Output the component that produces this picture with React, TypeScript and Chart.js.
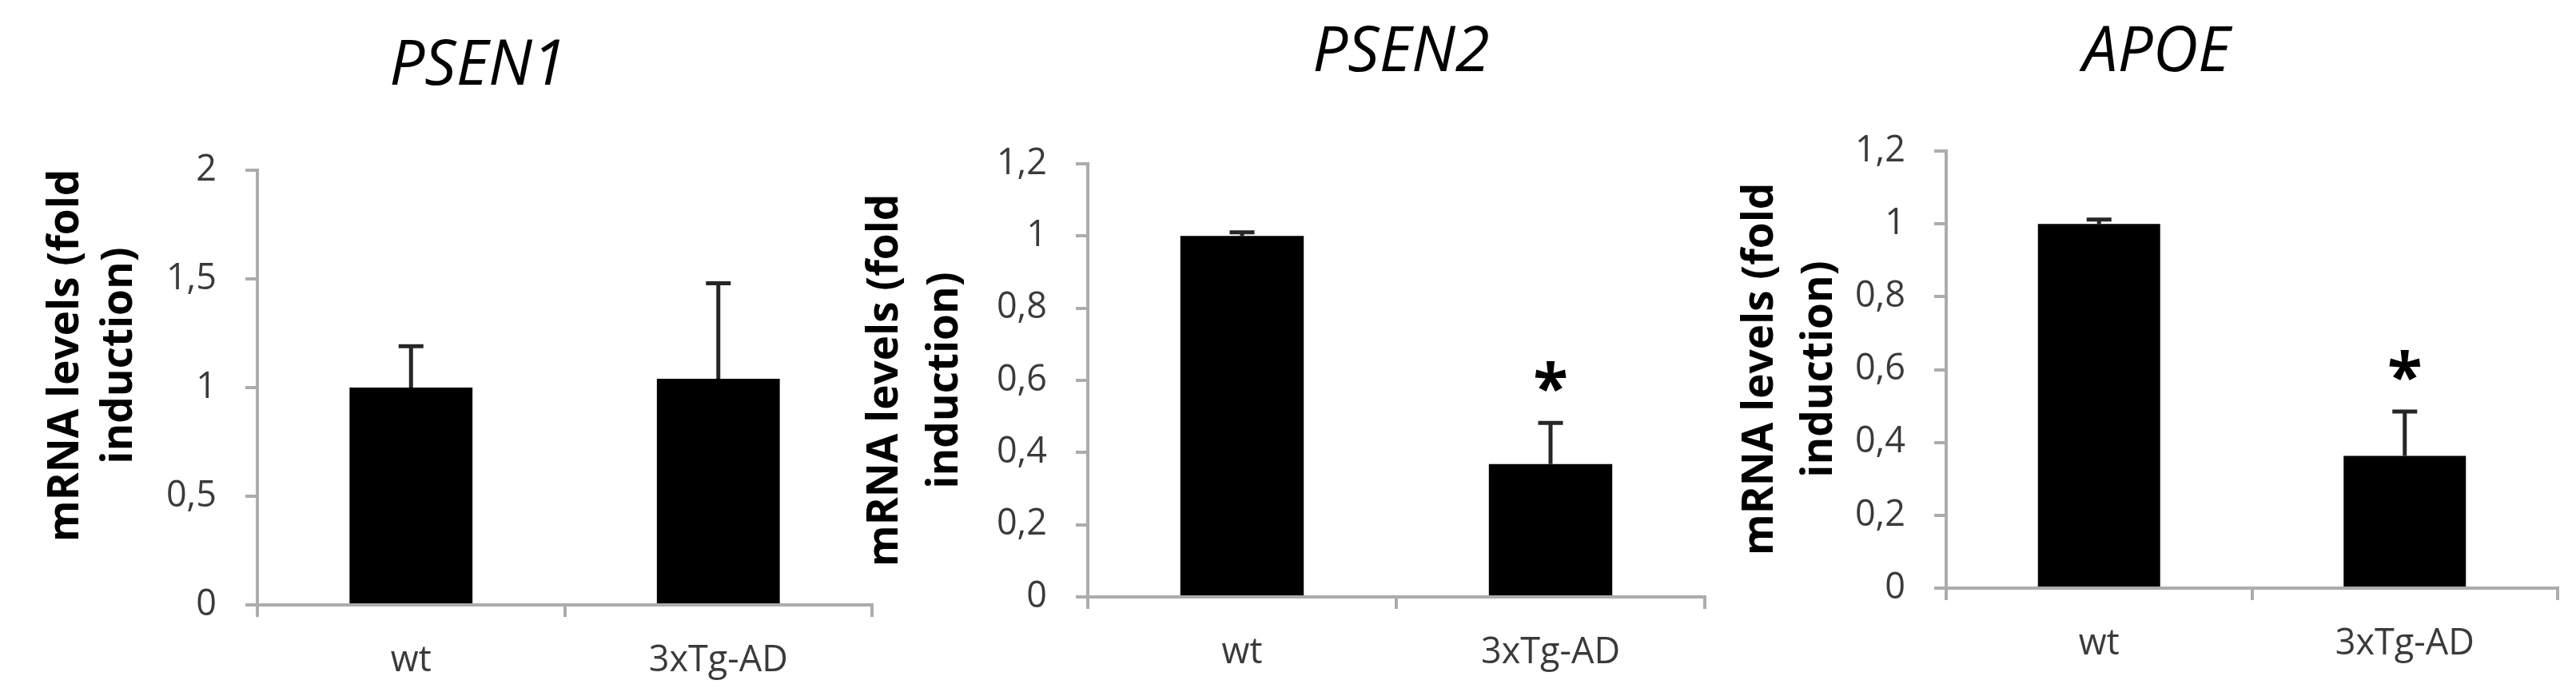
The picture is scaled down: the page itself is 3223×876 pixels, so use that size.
import React, { useEffect, useRef } from "react";
import { Chart, registerables } from "chart.js";

Chart.register(...registerables);

// ---------- data ----------
const categories = ["wt", "3xTg-AD"];

const psen1Title = "PSEN1";
const psen1Values = [1.0, 1.04];
const psen1Errors = [0.19, 0.44];
const psen1Marks = ["", ""];
const psen1TickValues = [0, 0.5, 1, 1.5, 2];

const psen2Title = "PSEN2";
const psen2Values = [1.0, 0.368];
const psen2Errors = [0.01, 0.114];
const psen2Marks = ["", "*"];
const psen2TickValues = [0, 0.2, 0.4, 0.6, 0.8, 1, 1.2];

const apoeTitle = "APOE";
const apoeValues = [1.0, 0.363];
const apoeErrors = [0.012, 0.122];
const apoeMarks = ["", "*"];
const apoeTickValues = [0, 0.2, 0.4, 0.6, 0.8, 1, 1.2];

const yAxisLabel = ["mRNA levels (fold", "induction)"];

// ---------- layout / style ----------
const W = 3223;
const H = 876;
const Y_W = 200;
const X_H = 120;
const FONT = '"Open Sans", "Noto Sans", sans-serif';
const AXIS_COLOR = "#acacac";
const TICK_COLOR = "#3a3a3a";
const ERR_COLOR = "#262626";

const fmt = (v: number) => String(Math.round(v * 100) / 100).replace(".", ",");

type Panel = {
  title: string;
  values: number[];
  errors: number[];
  marks: string[];
  ticks: number[];
  axisX: number;
  top: number;
  zero: number;
  right: number;
  titleX: number;
  titleY: number;
  labelX1: number;
  labelX2: number;
  labelY: number;
};

const panels: Panel[] = [
  {
    title: psen1Title, values: psen1Values, errors: psen1Errors, marks: psen1Marks, ticks: psen1TickValues,
    axisX: 322, top: 213, zero: 757, right: 1091,
    titleX: 598, titleY: 106, labelX1: 98, labelX2: 165, labelY: 445,
  },
  {
    title: psen2Title, values: psen2Values, errors: psen2Errors, marks: psen2Marks, ticks: psen2TickValues,
    axisX: 1361, top: 205, zero: 747, right: 2133,
    titleX: 1753, titleY: 89, labelX1: 1123, labelX2: 1198, labelY: 476,
  },
  {
    title: apoeTitle, values: apoeValues, errors: apoeErrors, marks: apoeMarks, ticks: apoeTickValues,
    axisX: 2435, top: 189, zero: 736, right: 3200,
    titleX: 2698, titleY: 89, labelX1: 2218, labelX2: 2292, labelY: 462,
  },
];

const panelDecor = {
  id: "panelDecor",
  afterDatasetsDraw(chart: any, _args: any, opts: any) {
    const { ctx } = chart;
    const meta = chart.getDatasetMeta(0);
    const yScale = chart.scales.y;
    ctx.save();
    // error bars + significance marks
    opts.values.forEach((v: number, i: number) => {
      const bar = meta.data[i];
      if (!bar) return;
      const x = bar.x;
      const yBase = yScale.getPixelForValue(v);
      const yTop = yScale.getPixelForValue(v + opts.errors[i]);
      ctx.strokeStyle = ERR_COLOR;
      ctx.lineWidth = 5;
      ctx.lineCap = "butt";
      ctx.beginPath();
      ctx.moveTo(x, yBase);
      ctx.lineTo(x, yTop);
      ctx.moveTo(x - 15.5, yTop);
      ctx.lineTo(x + 15.5, yTop);
      ctx.stroke();
      const mark = opts.marks[i];
      if (mark) {
        ctx.fillStyle = "#000";
        ctx.font = `bold 80px ${FONT}`;
        ctx.textAlign = "center";
        ctx.textBaseline = "alphabetic";
        const m = ctx.measureText(mark);
        const asc = m.actualBoundingBoxAscent || 0;
        const desc = m.actualBoundingBoxDescent || 0;
        const cy = yTop - 58;
        ctx.fillText(mark, x, cy + (asc - desc) / 2);
      }
    });
    ctx.restore();
  },
  afterDraw(chart: any, _args: any, opts: any) {
    const { ctx } = chart;
    ctx.save();
    // title
    ctx.fillStyle = "#000";
    ctx.font = `italic 78px ${FONT}`;
    ctx.textAlign = "center";
    ctx.textBaseline = "alphabetic";
    ctx.fillText(opts.title, opts.titleX, opts.titleY);
    // y-axis label (two lines, rotated)
    ctx.font = `bold 53px ${FONT}`;
    const xs = [opts.labelX1, opts.labelX2];
    opts.label.forEach((line: string, i: number) => {
      ctx.save();
      ctx.translate(xs[i], opts.labelY);
      ctx.rotate(-Math.PI / 2);
      ctx.fillText(line, 0, 0);
      ctx.restore();
    });
    ctx.restore();
  },
};

function makeConfig(p: Panel): any {
  const yMax = p.ticks[p.ticks.length - 1];
  return {
    type: "bar",
    data: {
      labels: categories,
      datasets: [
        {
          data: p.values,
          backgroundColor: "#000000",
          borderWidth: 0,
          categoryPercentage: 0.4,
          barPercentage: 1.0,
        },
      ],
    },
    options: {
      animation: false,
      responsive: false,
      maintainAspectRatio: false,
      events: [],
      layout: {
        padding: {
          left: p.axisX - Y_W,
          right: W - p.right,
          top: p.top,
          bottom: H - p.zero - X_H,
        },
      },
      plugins: {
        legend: { display: false },
        tooltip: { enabled: false },
        title: { display: false },
        panelDecor: {
          values: p.values,
          errors: p.errors,
          marks: p.marks,
          title: p.title,
          titleX: p.titleX,
          titleY: p.titleY,
          label: yAxisLabel,
          labelX1: p.labelX1,
          labelX2: p.labelX2,
          labelY: p.labelY,
        },
      },
      scales: {
        x: {
          type: "category",
          offset: true,
          grid: {
            offset: true,
            drawOnChartArea: false,
            drawTicks: true,
            tickLength: 15,
            color: AXIS_COLOR,
            lineWidth: 4,
          },
          border: { display: true, color: AXIS_COLOR, width: 4 },
          ticks: {
            font: { family: FONT, size: 45 },
            color: TICK_COLOR,
            padding: 28,
            maxRotation: 0,
          },
          afterFit: (s: any) => {
            s.height = X_H;
          },
        },
        y: {
          type: "linear",
          min: 0,
          max: yMax,
          grid: {
            drawOnChartArea: false,
            drawTicks: true,
            tickLength: 15,
            color: AXIS_COLOR,
            lineWidth: 4,
          },
          border: { display: true, color: AXIS_COLOR, width: 4 },
          afterBuildTicks: (s: any) => {
            s.ticks = p.ticks.map((v) => ({ value: v }));
          },
          ticks: {
            font: { family: FONT, size: 45 },
            color: TICK_COLOR,
            padding: 36,
            callback: (v: any) => fmt(Number(v)),
          },
          afterFit: (s: any) => {
            s.width = Y_W;
          },
        },
      },
    },
    plugins: [panelDecor],
  };
}

function ChartLayer({ panel }: { panel: Panel }) {
  const ref = useRef<HTMLCanvasElement | null>(null);
  useEffect(() => {
    if (!ref.current) return;
    const chart = new Chart(ref.current, makeConfig(panel));
    let alive = true;
    if ((document as any).fonts && (document as any).fonts.ready) {
      (document as any).fonts.ready.then(() => {
        if (alive) chart.update();
      });
    }
    return () => {
      alive = false;
      chart.destroy();
    };
  }, [panel]);
  return (
    <canvas
      ref={ref}
      width={W}
      height={H}
      style={{ position: "absolute", left: 0, top: 0, width: W, height: H, display: "block" }}
    />
  );
}

export default function App() {
  return (
    <div
      style={{
        position: "fixed",
        left: 0,
        top: 0,
        width: W,
        height: H,
        background: "#ffffff",
        overflow: "hidden",
      }}
    >
      {panels.map((p) => (
        <ChartLayer key={p.title} panel={p} />
      ))}
    </div>
  );
}
